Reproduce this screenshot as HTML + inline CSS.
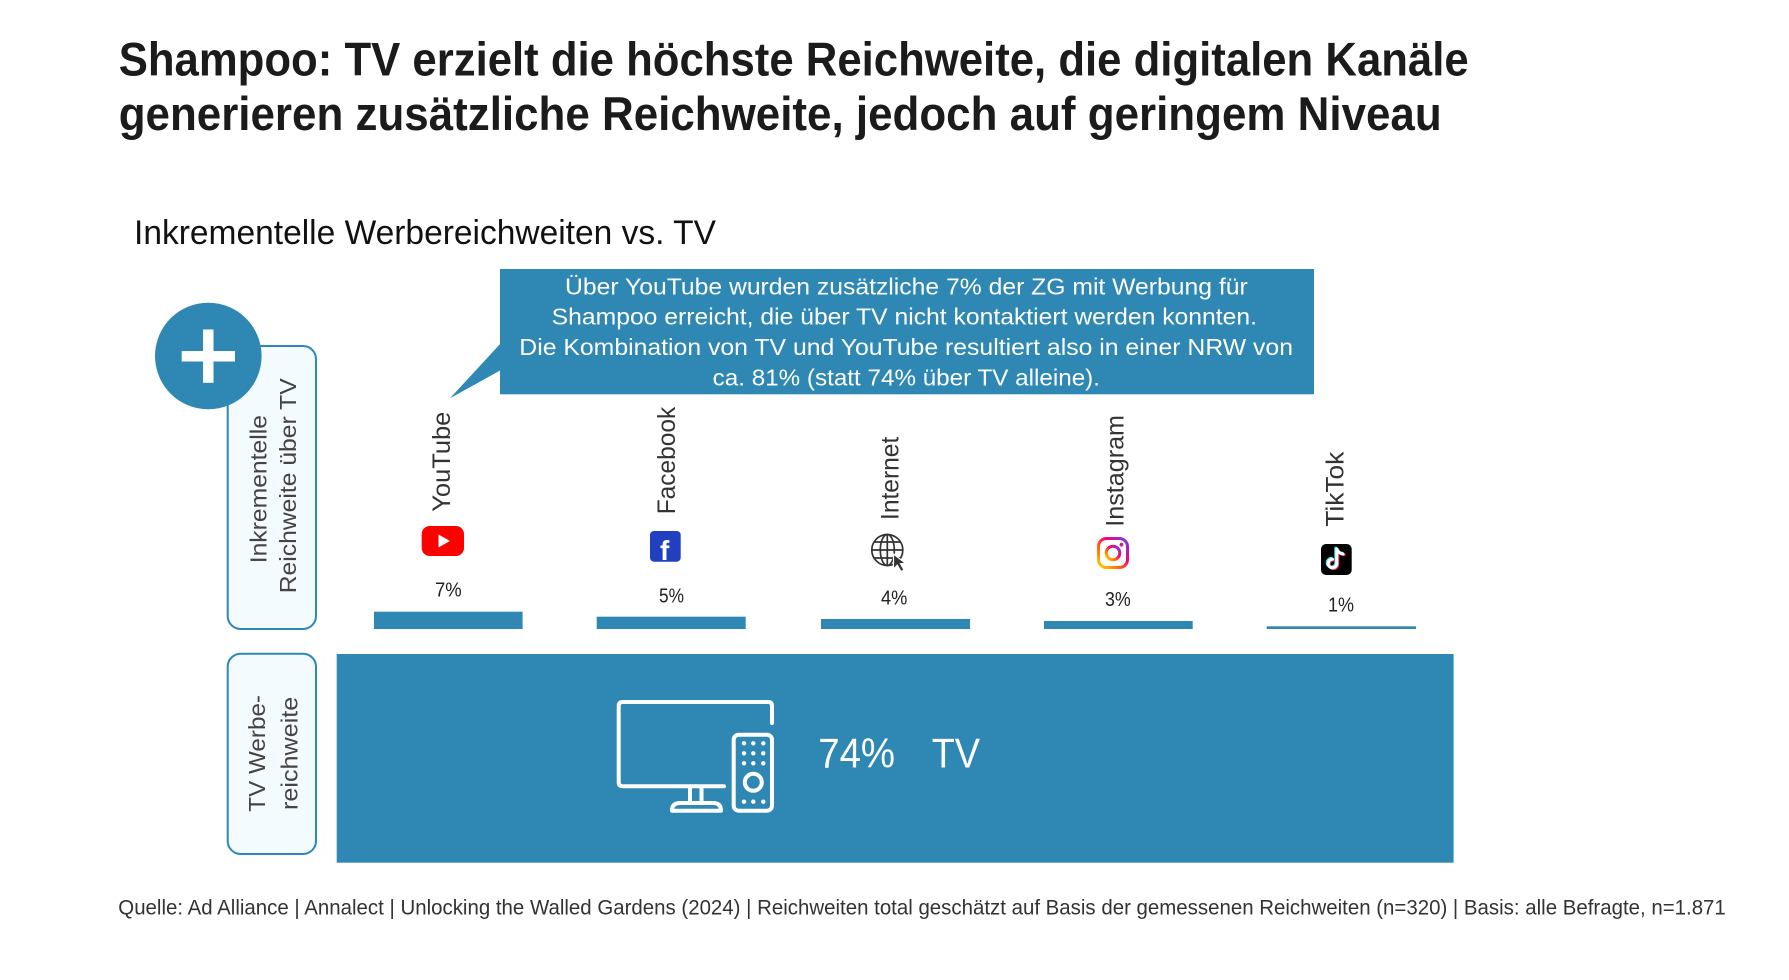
<!DOCTYPE html>
<html>
<head>
<meta charset="utf-8">
<style>
  html, body { margin: 0; padding: 0; background: #ffffff; }
  svg { display: block; }
  text { font-family: "Liberation Sans", "DejaVu Sans", sans-serif; }
</style>
</head>
<body>
<svg width="1789" height="980" viewBox="0 0 1789 980" xmlns="http://www.w3.org/2000/svg">
  <defs>
    <linearGradient id="ig" x1="0" y1="1" x2="1" y2="0">
      <stop offset="0" stop-color="#ffd600"/>
      <stop offset="0.3" stop-color="#ff7a00"/>
      <stop offset="0.6" stop-color="#ff0069"/>
      <stop offset="1" stop-color="#7638fa"/>
    </linearGradient>
  </defs>
  <rect x="0" y="0" width="1789" height="980" fill="#ffffff"/>

  <!-- Title -->
  <text x="118.7" y="75.5" font-size="47" font-weight="bold" fill="#1b1b1b" textLength="1350" lengthAdjust="spacingAndGlyphs">Shampoo: TV erzielt die höchste Reichweite, die digitalen Kanäle</text>
  <text x="118.7" y="130" font-size="47" font-weight="bold" fill="#1b1b1b" textLength="1323" lengthAdjust="spacingAndGlyphs">generieren zusätzliche Reichweite, jedoch auf geringem Niveau</text>

  <!-- Subtitle -->
  <text x="134" y="244" font-size="34" fill="#111111" textLength="582" lengthAdjust="spacingAndGlyphs">Inkrementelle Werbereichweiten vs. TV</text>

  <!-- Callout -->
  <rect x="500" y="269" width="814" height="125.3" fill="#2e88b3"/>
  <polygon points="501,343 450,398.3 501,370" fill="#2e88b3"/>
  <g fill="#ffffff" font-size="23.5">
    <text x="565" y="294.3" textLength="682.7" lengthAdjust="spacingAndGlyphs">Über YouTube wurden zusätzliche 7% der ZG mit Werbung für</text>
    <text x="551.7" y="324.3" textLength="705.3" lengthAdjust="spacingAndGlyphs">Shampoo erreicht, die über TV nicht kontaktiert werden konnten.</text>
    <text x="519.3" y="355" textLength="773.7" lengthAdjust="spacingAndGlyphs">Die Kombination von TV und YouTube resultiert also in einer NRW von</text>
    <text x="712.7" y="385.7" textLength="387.3" lengthAdjust="spacingAndGlyphs">ca. 81% (statt 74% über TV alleine).</text>
  </g>

  <!-- Left label boxes -->
  <rect x="227.7" y="346" width="88.3" height="283" rx="13" ry="13" fill="#f4fbfe" stroke="#2e88b3" stroke-width="2"/>
  <rect x="227.7" y="653.7" width="88.3" height="200.3" rx="13" ry="13" fill="#f4fbfe" stroke="#2e88b3" stroke-width="2"/>
  <g fill="#444444" font-size="23">
    <text transform="translate(266.7,563.3) rotate(-90)" textLength="148.3" lengthAdjust="spacingAndGlyphs">Inkrementelle</text>
    <text transform="translate(296,593.3) rotate(-90)" textLength="215" lengthAdjust="spacingAndGlyphs">Reichweite über TV</text>
    <text transform="translate(265,811.7) rotate(-90)" textLength="116.7" lengthAdjust="spacingAndGlyphs">TV Werbe-</text>
    <text transform="translate(297.3,810) rotate(-90)" textLength="113.3" lengthAdjust="spacingAndGlyphs">reichweite</text>
  </g>

  <!-- Plus circle -->
  <circle cx="208.3" cy="356" r="53.3" fill="#2e88b3"/>
  <rect x="181.7" y="351" width="53.3" height="10.5" fill="#ffffff"/>
  <rect x="203" y="329.5" width="10.5" height="53.3" fill="#ffffff"/>

  <!-- Channel labels (rotated) -->
  <g fill="#333333" font-size="25">
    <text transform="translate(450,511.7) rotate(-90)" textLength="100" lengthAdjust="spacingAndGlyphs">YouTube</text>
    <text transform="translate(675,514.3) rotate(-90)" textLength="107.6" lengthAdjust="spacingAndGlyphs">Facebook</text>
    <text transform="translate(898.3,520) rotate(-90)" textLength="83.3" lengthAdjust="spacingAndGlyphs">Internet</text>
    <text transform="translate(1123.3,526.7) rotate(-90)" textLength="111.7" lengthAdjust="spacingAndGlyphs">Instagram</text>
    <text transform="translate(1343.3,526.7) rotate(-90)" textLength="75" lengthAdjust="spacingAndGlyphs">TikTok</text>
  </g>

  <!-- Icons -->
  <!-- YouTube -->
  <rect x="421.7" y="526" width="42.3" height="30" rx="8" ry="8" fill="#ff0000"/>
  <polygon points="438.5,534.5 438.5,547.5 450,541" fill="#ffffff"/>
  <!-- Facebook -->
  <rect x="650" y="531" width="30.7" height="30.7" rx="4" ry="4" fill="#2040c0"/>
  <text x="660" y="560" font-size="28" font-weight="bold" fill="#ffffff">f</text>
  <!-- Internet globe -->
  <g fill="none" stroke="#333333" stroke-width="1.7">
    <circle cx="887.3" cy="550" r="15.5"/>
    <ellipse cx="887.3" cy="550" rx="7" ry="15.5"/>
    <line x1="887.3" y1="534.5" x2="887.3" y2="565.5"/>
    <line x1="871.8" y1="550" x2="902.8" y2="550"/>
    <line x1="874" y1="542" x2="900.6" y2="542"/>
    <line x1="874" y1="558" x2="900.6" y2="558"/>
  </g>
  <polygon points="893.5,554 893.5,569 897.3,565.2 901,571.5 904,570 900.5,563.8 905.5,563.3" fill="#333333" stroke="#ffffff" stroke-width="1.2"/>
  <!-- Instagram -->
  <rect x="1098.5" y="538.5" width="29" height="29" rx="8" ry="8" fill="none" stroke="url(#ig)" stroke-width="3"/>
  <circle cx="1113" cy="553" r="6.8" fill="none" stroke="url(#ig)" stroke-width="3"/>
  <circle cx="1121.5" cy="544.7" r="1.9" fill="#c0259a"/>
  <!-- TikTok -->
  <rect x="1321" y="544" width="30.7" height="31" rx="5" ry="5" fill="#000000"/>
  <g fill="none" stroke-width="3" stroke-linecap="round">
    <path d="M1336.8 549 V563.5 A4.3 4.3 0 1 1 1332.5 559.2 M1336.8 549 Q1338.5 553.5 1343 554" stroke="#25f4ee" transform="translate(-1,-0.8)"/>
    <path d="M1336.8 549 V563.5 A4.3 4.3 0 1 1 1332.5 559.2 M1336.8 549 Q1338.5 553.5 1343 554" stroke="#fe2c55" transform="translate(1,0.8)"/>
    <path d="M1336.8 549 V563.5 A4.3 4.3 0 1 1 1332.5 559.2 M1336.8 549 Q1338.5 553.5 1343 554" stroke="#ffffff"/>
  </g>

  <!-- Percent labels -->
  <g fill="#222222" font-size="20">
    <text x="435" y="596.7" textLength="26.7" lengthAdjust="spacingAndGlyphs">7%</text>
    <text x="659" y="602.3" textLength="25" lengthAdjust="spacingAndGlyphs">5%</text>
    <text x="881" y="604.3" textLength="26.3" lengthAdjust="spacingAndGlyphs">4%</text>
    <text x="1105" y="606" textLength="25.7" lengthAdjust="spacingAndGlyphs">3%</text>
    <text x="1328" y="611.7" textLength="26" lengthAdjust="spacingAndGlyphs">1%</text>
  </g>

  <!-- Incremental bars -->
  <g fill="#2e88b3">
    <rect x="374" y="611.7" width="148.6" height="17.3"/>
    <rect x="596.7" y="616.7" width="149" height="12.3"/>
    <rect x="821" y="619" width="149" height="10"/>
    <rect x="1044" y="621" width="148.7" height="8"/>
    <rect x="1266.7" y="626.3" width="149.3" height="2.7"/>
  </g>

  <!-- TV bar -->
  <rect x="336.7" y="654" width="1116.9" height="208.7" fill="#2e88b3"/>

  <!-- TV icon -->
  <g fill="none" stroke="#ffffff" stroke-width="4" stroke-linecap="round" stroke-linejoin="round">
    <path d="M772 723 V706 Q772 702 768 702 H622.7 Q618.7 702 618.7 706 V782.3 Q618.7 786.3 622.7 786.3 H724"/>
    <line x1="690" y1="788" x2="690" y2="801"/>
    <line x1="701.5" y1="788" x2="701.5" y2="801"/>
    <path d="M672 810.7 Q672 803 680 803 H713 Q721 803 721 810.7 Z"/>
    <rect x="733.7" y="734.7" width="38.3" height="76" rx="5" ry="5"/>
    <circle cx="753.3" cy="782.3" r="8.5"/>
  </g>
  <g fill="#ffffff">
    <circle cx="744" cy="743.3" r="2.2"/><circle cx="753.3" cy="743.3" r="2.2"/><circle cx="763.3" cy="743.3" r="2.2"/>
    <circle cx="744" cy="753.3" r="2.2"/><circle cx="753.3" cy="753.3" r="2.2"/><circle cx="763.3" cy="753.3" r="2.2"/>
    <circle cx="744" cy="763.3" r="2.2"/><circle cx="753.3" cy="763.3" r="2.2"/><circle cx="763.3" cy="763.3" r="2.2"/>
    <circle cx="744" cy="801.7" r="2.2"/><circle cx="753.3" cy="801.7" r="2.2"/><circle cx="763.3" cy="801.7" r="2.2"/>
  </g>
  <text x="818.3" y="767.3" font-size="42" fill="#ffffff" textLength="76.7" lengthAdjust="spacingAndGlyphs">74%</text>
  <text x="931.7" y="767.3" font-size="42" fill="#ffffff" textLength="48.3" lengthAdjust="spacingAndGlyphs">TV</text>

  <!-- Footer -->
  <text x="118.3" y="914.3" font-size="21" fill="#333333" textLength="1607.5" lengthAdjust="spacingAndGlyphs">Quelle: Ad Alliance | Annalect | Unlocking the Walled Gardens (2024) | Reichweiten total geschätzt auf Basis der gemessenen Reichweiten (n=320) | Basis: alle Befragte, n=1.871</text>
</svg>
</body>
</html>
